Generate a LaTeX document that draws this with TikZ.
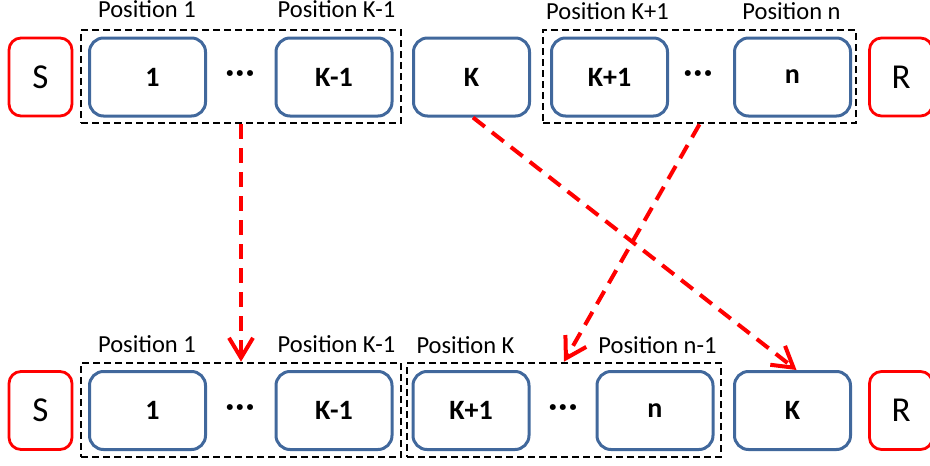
\documentclass[tikz,border=0pt]{standalone}
\usepackage{fontspec}
\setmainfont{Carlito}
\usetikzlibrary{arrows.meta}
\definecolor{boxblue}{HTML}{41689C}
\definecolor{myred}{HTML}{FF0000}
\begin{document}
\begin{tikzpicture}[x=1pt,y=-1pt,
  bluebox/.style={draw=boxblue, line width=3pt, rounded corners=14pt, minimum width=116pt, minimum height=78pt, inner sep=0pt, font=\fontsize{28}{32}\selectfont\bfseries},
  redbox/.style={draw=myred, line width=2.8pt, rounded corners=12pt, minimum width=63pt, minimum height=78pt, inner sep=0pt, font=\fontsize{35}{40}\selectfont},
  groupbox/.style={draw=black, line width=2.6pt, dash pattern=on 7pt off 4pt, inner sep=0pt},
  poslabel/.style={anchor=base, font=\fontsize{24.5}{28}\selectfont, inner sep=0pt},
  dotsnode/.style={inner sep=0pt, font=\fontsize{32}{36}\selectfont\bfseries},
  move/.style={draw=myred, line width=4pt, dash pattern=on 15pt off 9pt, -{Straight Barb[length=20pt,width=24pt]}}
]
\useasboundingbox (0,0) rectangle (930,466);

% top row
\node[groupbox, minimum width=320pt, minimum height=93pt] (g1) at (241,76.5) {};
\node[groupbox, minimum width=313pt, minimum height=93pt] (g2) at (699.5,76.5) {};
\node[redbox] (tS) at (40.5,77) {S};
\node[bluebox] (t1) at (147.5,77) {\hspace*{10pt}1};
\node[dotsnode] (td1) at (240,77) {·\kern1.5pt·\kern1.5pt·};
\node[bluebox] (tK1) at (334,77) {K-1};
\node[bluebox] (tK) at (471.5,77) {K};
\node[bluebox] (tKp1) at (609.5,77) {K+1};
\node[dotsnode] (td2) at (698,77) {·\kern1.5pt·\kern1.5pt·};
\node[bluebox] (tn) at (792.5,77) {n};
\node[redbox] (tR) at (901,77) {R};

\node[poslabel] (lt1) at (147,17) {Position 1};
\node[poslabel] (lt2) at (336.5,17) {Position K-1};
\node[poslabel] (lt3) at (607.5,19) {Position K+1};
\node[poslabel] (lt4) at (791.5,19) {Position n};

% bottom row
\node[groupbox, minimum width=320pt, minimum height=94pt] (g3) at (241,410) {};
\node[groupbox, minimum width=314pt, minimum height=94pt] (g4) at (564,410) {};
\node[redbox] (bS) at (40.5,410.5) {S};
\node[bluebox] (b1) at (147.5,410.5) {\hspace*{10pt}1};
\node[dotsnode] (bd1) at (240,410.5) {·\kern1.5pt·\kern1.5pt·};
\node[bluebox] (bK1) at (334,410.5) {K-1};
\node[bluebox] (bKp1) at (471,410.5) {K+1};
\node[dotsnode] (bd2) at (563,410.5) {·\kern1.5pt·\kern1.5pt·};
\node[bluebox] (bn) at (655,410.5) {n};
\node[bluebox] (bK) at (792.5,410.5) {K};
\node[redbox] (bR) at (901,410.5) {R};

\node[poslabel] (lb1) at (147,352) {Position 1};
\node[poslabel] (lb2) at (336.5,352) {Position K-1};
\node[poslabel] (lb3) at (465.5,353) {Position K};
\node[poslabel] (lb4) at (657.5,353) {Position n-1};

% moves
\draw[move] (g1.south) -- (g3.north);
\draw[move] ([xshift=1.5pt]tK.south) -- ([xshift=4pt]bK.north);
\draw[move] (g2.south) -- (g4.north);
\end{tikzpicture}
\end{document}
